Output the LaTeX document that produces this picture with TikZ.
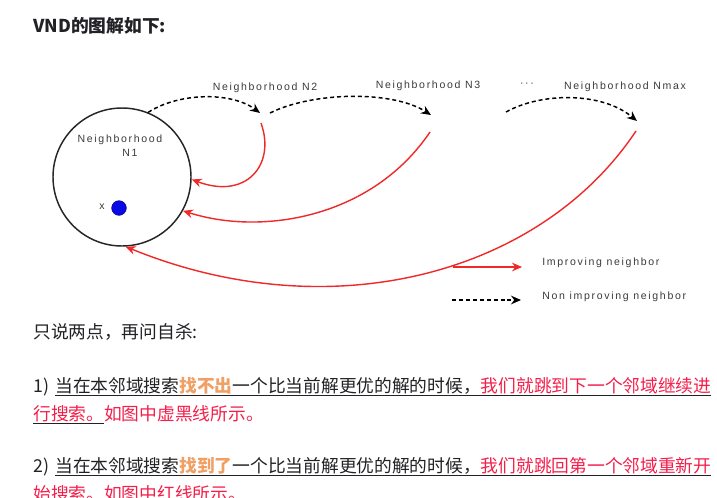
\documentclass[tikz,border=0pt]{standalone}
\usepackage{fontspec}
\usetikzlibrary{arrows.meta}
\newfontfamily\cjk{Noto Sans CJK SC}
\newfontfamily\diagfont[LetterSpace=16]{Liberation Sans}
\definecolor{txt}{HTML}{222226}
\definecolor{redtxt}{RGB}{245,30,75}
\definecolor{orangetxt}{RGB}{240,160,100}
\definecolor{redline}{RGB}{240,40,40}
\definecolor{lbl}{HTML}{3A3A3A}
\definecolor{dotblue}{RGB}{10,10,230}
\newcommand\ulx[1]{\setbox0\hbox{#1}\rlap{\color{txt}\rule[-2.7pt]{\wd0}{0.65pt}}\box0}
\tikzset{
  bodytext/.style={anchor=base west,inner sep=0pt,text=txt,font=\cjk\fontsize{13.3pt}{16pt}\selectfont},
  lbltext/.style={inner sep=0pt,text=lbl,font=\diagfont\fontsize{7.9pt}{9.5pt}\selectfont},
  nonimp/.style={draw=black,line width=1.1pt,dash pattern=on 3pt off 2.2pt,-{Stealth[length=7.5pt,width=6.5pt]}},
  improv/.style={draw=redline,line width=1.05pt,-{Stealth[length=7.5pt,width=6.5pt,inset=2.5pt]}},
}
\begin{document}
\begin{tikzpicture}[x=0.75pt,y=-0.75pt]
\useasboundingbox[fill=white] (0,0) rectangle (717,497);
% title
\node[bodytext] (title) at (33,32) {\bfseries VND的图解如下:};
% circle N1
\node[draw=black!85,line width=1.1pt,circle,minimum size=103.5pt,inner sep=0pt] (n1) at (122,177) {};
\node[lbltext] (n1a) at (120,140) {Neighborhood};
\node[lbltext] (n1b) at (130,153) {N1};
\node[lbltext] (xlab) at (102,207) {x};
\node[circle,fill=dotblue,draw=dotblue!60!black,line width=0.4pt,minimum size=11pt,inner sep=0pt] (dot) at (119,208) {};
% labels
\node[lbltext] (l2) at (265,88) {Neighborhood N2};
\node[lbltext] (l3) at (428,86) {Neighborhood N3};
\node[lbltext] (ldots) at (527,85) {\textperiodcentered\textperiodcentered\textperiodcentered};
\node[lbltext] (lmax) at (625,87) {Neighborhood Nmax};
% endpoints
\coordinate (n2in) at (260,113);
\coordinate (n2out) at (270,113);
\coordinate (n2ret) at (261,123);
\coordinate (n3in) at (431,115);
\coordinate (n3ret) at (430,132);
\coordinate (n4out) at (506,112);
\coordinate (nmaxin) at (637,121);
\coordinate (nmaxret) at (636,131);
% dashed arrows
\draw[nonimp] (n1.68) .. controls (180,92) and (232,92) .. (n2in);
\draw[nonimp] (n2out) .. controls (312,92) and (392,90) .. (n3in);
\draw[nonimp] (n4out) .. controls (542,92) and (602,92) .. (nmaxin);
% red arrows
\draw[improv] (n2ret) .. controls (276,165) and (246,200) .. (n1.-2);
\draw[improv] (n3ret) .. controls (372,218) and (262,236) .. (n1.-29);
\draw[improv] (nmaxret) .. controls (540,275) and (330,330) .. (n1.-87);
% legend
\coordinate (lgA1) at (453,267);
\coordinate (lgA2) at (522,267);
\coordinate (lgB1) at (452,300);
\coordinate (lgB2) at (521,300);
\draw[improv] (lgA1) -- (lgA2);
\draw[nonimp] (lgB1) -- (lgB2);
\node[lbltext,anchor=west] (lgAt) at (542,263) {Improving neighbor};
\node[lbltext,anchor=west] (lgBt) at (542,297) {Non improving neighbor};
% body text
\node[bodytext] (p0) at (33,338) {只说两点，再问自杀:};
\node[bodytext] (p1n) at (33,392) {1)};
\node[bodytext] (p1) at (55,392) {\ulx{当在本邻域搜索{\bfseries\color{orangetxt}找不出}一个比当前解更优的解的时候，{\color{redtxt}我们就跳到下一个邻域继续进}}};
\node[bodytext] (p1b) at (33,420) {\ulx{\color{redtxt}行搜索。}如图中虚黑线所示。};
\node[bodytext] (p2n) at (33,472) {2)};
\node[bodytext] (p2) at (55,472) {\ulx{当在本邻域搜索{\bfseries\color{orangetxt}找到了}一个比当前解更优的解的时候，{\color{redtxt}我们就跳回第一个邻域重新开}}};
\node[bodytext] (p2b) at (33,500) {\ulx{\color{redtxt}始搜索。}如图中红线所示。};
\end{tikzpicture}
\end{document}
